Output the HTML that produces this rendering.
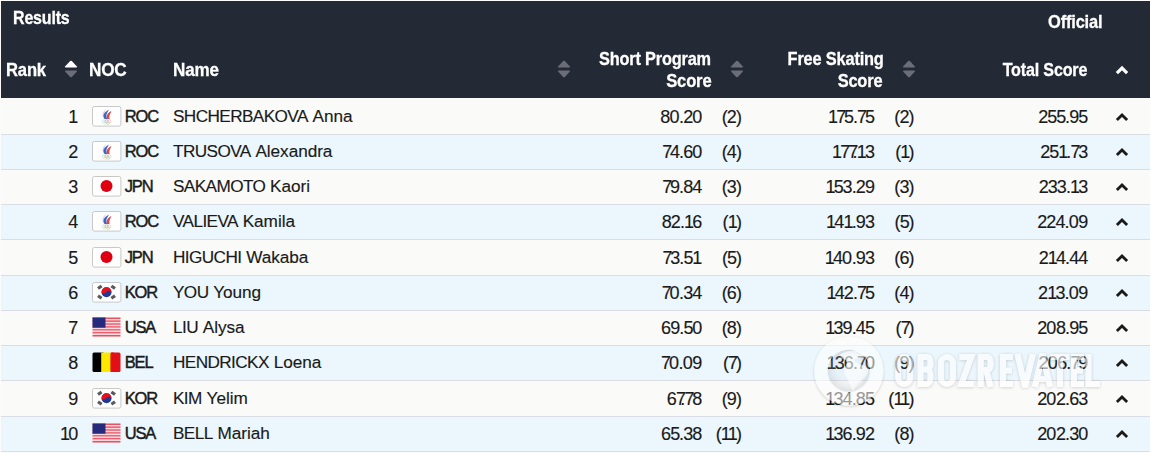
<!DOCTYPE html>
<html><head><meta charset="utf-8"><style>
html,body{margin:0;padding:0;}
body{width:1150px;height:453px;position:relative;overflow:hidden;background:#fbfbfb;font-family:"Liberation Sans",sans-serif;}
.t{position:absolute;white-space:nowrap;}
.ic{position:absolute;display:block;}
</style></head><body>
<div style="position:absolute;left:1px;top:1px;width:1149px;height:97px;background:#242a35"></div>
<div class="t" style="left:13.00px;top:9.34px;font-size:18.5px;line-height:18.5px;font-weight:700;color:#ffffff;letter-spacing:-0.2px;-webkit-text-stroke:0.3px #fff;transform:scaleX(0.8644);transform-origin:0 0;">Results</div>
<div class="t" style="left:1048.00px;top:12.94px;font-size:18.5px;line-height:18.5px;font-weight:700;color:#ffffff;letter-spacing:-0.2px;-webkit-text-stroke:0.3px #fff;transform:scaleX(0.8901);transform-origin:0 0;">Official</div>
<div class="t" style="left:6.00px;top:60.94px;font-size:18.5px;line-height:18.5px;font-weight:700;color:#ffffff;letter-spacing:-0.2px;-webkit-text-stroke:0.3px #fff;transform:scaleX(0.8988);transform-origin:0 0;">Rank</div>
<div class="t" style="left:89.00px;top:60.94px;font-size:18.5px;line-height:18.5px;font-weight:700;color:#ffffff;letter-spacing:-0.2px;-webkit-text-stroke:0.3px #fff;transform:scaleX(0.9270);transform-origin:0 0;">NOC</div>
<div class="t" style="left:173.00px;top:60.94px;font-size:18.5px;line-height:18.5px;font-weight:700;color:#ffffff;letter-spacing:-0.2px;-webkit-text-stroke:0.3px #fff;transform:scaleX(0.9221);transform-origin:0 0;">Name</div>
<div class="t" style="right:439.00px;top:49.94px;font-size:18.5px;line-height:18.5px;font-weight:700;color:#ffffff;letter-spacing:-0.2px;-webkit-text-stroke:0.3px #fff;transform:scaleX(0.8816);transform-origin:100% 0;">Short Program</div>
<div class="t" style="right:439.00px;top:71.54px;font-size:18.5px;line-height:18.5px;font-weight:700;color:#ffffff;letter-spacing:-0.2px;-webkit-text-stroke:0.3px #fff;transform:scaleX(0.8961);transform-origin:100% 0;">Score</div>
<div class="t" style="right:266.50px;top:49.94px;font-size:18.5px;line-height:18.5px;font-weight:700;color:#ffffff;letter-spacing:-0.2px;-webkit-text-stroke:0.3px #fff;transform:scaleX(0.8838);transform-origin:100% 0;">Free Skating</div>
<div class="t" style="right:267.50px;top:71.54px;font-size:18.5px;line-height:18.5px;font-weight:700;color:#ffffff;letter-spacing:-0.2px;-webkit-text-stroke:0.3px #fff;transform:scaleX(0.8884);transform-origin:100% 0;">Score</div>
<div class="t" style="right:62.50px;top:60.94px;font-size:18.5px;line-height:18.5px;font-weight:700;color:#ffffff;letter-spacing:-0.2px;-webkit-text-stroke:0.3px #fff;transform:scaleX(0.8697);transform-origin:100% 0;">Total Score</div>
<svg class="ic" style="left:64.30px;top:60.0px" width="14" height="18" viewBox="0 0 14 18"><path d="M6.2 1.1 Q7 0.3 7.8 1.1 L12.7 6.3 Q13.6 7.5 12.1 7.5 L1.9 7.5 Q0.4 7.5 1.3 6.3 Z" fill="#ffffff"/><path d="M6.2 16.9 Q7 17.7 7.8 16.9 L12.7 11.7 Q13.6 10.5 12.1 10.5 L1.9 10.5 Q0.4 10.5 1.3 11.7 Z" fill="#6b6e79"/></svg>
<svg class="ic" style="left:556.80px;top:60.0px" width="14" height="18" viewBox="0 0 14 18"><path d="M6.2 1.1 Q7 0.3 7.8 1.1 L12.7 6.3 Q13.6 7.5 12.1 7.5 L1.9 7.5 Q0.4 7.5 1.3 6.3 Z" fill="#6b6e79"/><path d="M6.2 16.9 Q7 17.7 7.8 16.9 L12.7 11.7 Q13.6 10.5 12.1 10.5 L1.9 10.5 Q0.4 10.5 1.3 11.7 Z" fill="#6b6e79"/></svg>
<svg class="ic" style="left:729.80px;top:60.0px" width="14" height="18" viewBox="0 0 14 18"><path d="M6.2 1.1 Q7 0.3 7.8 1.1 L12.7 6.3 Q13.6 7.5 12.1 7.5 L1.9 7.5 Q0.4 7.5 1.3 6.3 Z" fill="#6b6e79"/><path d="M6.2 16.9 Q7 17.7 7.8 16.9 L12.7 11.7 Q13.6 10.5 12.1 10.5 L1.9 10.5 Q0.4 10.5 1.3 11.7 Z" fill="#6b6e79"/></svg>
<svg class="ic" style="left:901.80px;top:60.0px" width="14" height="18" viewBox="0 0 14 18"><path d="M6.2 1.1 Q7 0.3 7.8 1.1 L12.7 6.3 Q13.6 7.5 12.1 7.5 L1.9 7.5 Q0.4 7.5 1.3 6.3 Z" fill="#6b6e79"/><path d="M6.2 16.9 Q7 17.7 7.8 16.9 L12.7 11.7 Q13.6 10.5 12.1 10.5 L1.9 10.5 Q0.4 10.5 1.3 11.7 Z" fill="#6b6e79"/></svg>
<svg class="ic" style="left:1115.2px;top:64.6px" width="14" height="10" viewBox="0 0 14 10"><path d="M1.9 8.1 L7 3 L12.1 8.1" fill="none" stroke="#ffffff" stroke-width="3.2" stroke-linecap="butt" stroke-linejoin="miter"/></svg>
<div style="position:absolute;left:1px;top:98px;width:1149px;height:36px;background:#fafaf9"></div>
<div style="position:absolute;left:1px;top:134px;width:1149px;height:1px;background:#dadee4"></div>
<div class="t" style="right:1072.60px;top:107.56px;font-size:18px;line-height:18px;font-weight:400;color:#1a1a1a;letter-spacing:-0.9px;-webkit-text-stroke:0.15px #1a1a1a;">1</div>
<svg class="ic" style="left:92.1px;top:106.4px" width="30" height="21" viewBox="0 0 30 21"><rect x="0.5" y="0.5" width="28.4" height="19.6" rx="2" fill="#fff" stroke="#c8c8c8"/><path d="M11.4 11.8 C9.8 9.6 10.2 7 12 5 C12.8 4.1 13.6 3.3 14.4 2.6 C13.6 4.4 12.6 6 12.4 7.8 C12.2 9 12.4 10.4 12.8 11.8 Z" fill="#d8d6ee"/><path d="M12.6 13 C11 11 11 8.5 13 6.5 C14 5.3 15.3 4.2 16.8 3.4 C16 5.5 14.6 7.2 14.4 9 C14.2 10.5 14.7 11.8 15.1 13 Z" fill="#4262c4"/><path d="M15.2 13 C14.2 11 14.6 8.8 16 7.4 C17 6.4 18.2 5.6 19.4 5 C18.8 7 17.6 8.6 17.4 10 C17.2 11 17.4 12 17.6 13 Z" fill="#d94a44"/><g fill="none" stroke-width="0.75" opacity="0.75"><circle cx="11.9" cy="15.4" r="1.6" stroke="#9ccbe8"/><circle cx="14.7" cy="15.4" r="1.6" stroke="#888"/><circle cx="17.5" cy="15.4" r="1.6" stroke="#eeb0b6"/><circle cx="13.3" cy="16.9" r="1.6" stroke="#f2dc9c"/><circle cx="16.1" cy="16.9" r="1.6" stroke="#a6d4a6"/></g></svg>
<div class="t" style="left:124.80px;top:107.83px;font-size:16.5px;line-height:16.5px;font-weight:400;color:#1a1a1a;letter-spacing:-1.2px;-webkit-text-stroke:0.45px #1a1a1a;">ROC</div>
<div class="t" style="left:173.00px;top:108.24px;font-size:17.2px;line-height:17.2px;font-weight:400;color:#1a1a1a;-webkit-text-stroke:0.15px #1a1a1a;"><span style="letter-spacing:-0.6px">SHCHERBAKOVA</span> <span style="letter-spacing:-0.05px">Anna</span></div>
<div class="t" style="right:448.60px;top:107.56px;font-size:18px;line-height:18px;font-weight:400;color:#1a1a1a;letter-spacing:-0.9px;-webkit-text-stroke:0.15px #1a1a1a;">8<span style="letter-spacing:-0.4px">0</span>.20</div>
<div class="t" style="right:409.00px;top:107.56px;font-size:18px;line-height:18px;font-weight:400;color:#1a1a1a;letter-spacing:-0.9px;-webkit-text-stroke:0.15px #1a1a1a;">(2)</div>
<div class="t" style="right:276.00px;top:107.56px;font-size:18px;line-height:18px;font-weight:400;color:#1a1a1a;letter-spacing:-0.9px;-webkit-text-stroke:0.15px #1a1a1a;"><span style="letter-spacing:-1.8px">1</span><span style="letter-spacing:-2.2px">7</span><span style="letter-spacing:-1.15px">5</span>.<span style="letter-spacing:-2.2px">7</span>5</div>
<div class="t" style="right:236.40px;top:107.56px;font-size:18px;line-height:18px;font-weight:400;color:#1a1a1a;letter-spacing:-0.9px;-webkit-text-stroke:0.15px #1a1a1a;">(2)</div>
<div class="t" style="right:62.60px;top:107.56px;font-size:18px;line-height:18px;font-weight:400;color:#1a1a1a;letter-spacing:-0.9px;-webkit-text-stroke:0.15px #1a1a1a;">2<span style="letter-spacing:-1.15px">5</span><span style="letter-spacing:-1.15px">5</span>.95</div>
<svg class="ic" style="left:1115px;top:111.5px" width="14" height="10" viewBox="0 0 14 10"><path d="M1.9 8.1 L7 3 L12.1 8.1" fill="none" stroke="#1a1a1a" stroke-width="2.8" stroke-linecap="butt" stroke-linejoin="miter"/></svg>
<div style="position:absolute;left:1px;top:135px;width:1149px;height:34px;background:#ecf7fd"></div>
<div style="position:absolute;left:1px;top:169px;width:1149px;height:1px;background:#dadee4"></div>
<div class="t" style="right:1072.60px;top:142.56px;font-size:18px;line-height:18px;font-weight:400;color:#1a1a1a;letter-spacing:-0.9px;-webkit-text-stroke:0.15px #1a1a1a;">2</div>
<svg class="ic" style="left:92.1px;top:141.4px" width="30" height="21" viewBox="0 0 30 21"><rect x="0.5" y="0.5" width="28.4" height="19.6" rx="2" fill="#fff" stroke="#c8c8c8"/><path d="M11.4 11.8 C9.8 9.6 10.2 7 12 5 C12.8 4.1 13.6 3.3 14.4 2.6 C13.6 4.4 12.6 6 12.4 7.8 C12.2 9 12.4 10.4 12.8 11.8 Z" fill="#d8d6ee"/><path d="M12.6 13 C11 11 11 8.5 13 6.5 C14 5.3 15.3 4.2 16.8 3.4 C16 5.5 14.6 7.2 14.4 9 C14.2 10.5 14.7 11.8 15.1 13 Z" fill="#4262c4"/><path d="M15.2 13 C14.2 11 14.6 8.8 16 7.4 C17 6.4 18.2 5.6 19.4 5 C18.8 7 17.6 8.6 17.4 10 C17.2 11 17.4 12 17.6 13 Z" fill="#d94a44"/><g fill="none" stroke-width="0.75" opacity="0.75"><circle cx="11.9" cy="15.4" r="1.6" stroke="#9ccbe8"/><circle cx="14.7" cy="15.4" r="1.6" stroke="#888"/><circle cx="17.5" cy="15.4" r="1.6" stroke="#eeb0b6"/><circle cx="13.3" cy="16.9" r="1.6" stroke="#f2dc9c"/><circle cx="16.1" cy="16.9" r="1.6" stroke="#a6d4a6"/></g></svg>
<div class="t" style="left:124.80px;top:142.83px;font-size:16.5px;line-height:16.5px;font-weight:400;color:#1a1a1a;letter-spacing:-1.2px;-webkit-text-stroke:0.45px #1a1a1a;">ROC</div>
<div class="t" style="left:173.00px;top:143.24px;font-size:17.2px;line-height:17.2px;font-weight:400;color:#1a1a1a;-webkit-text-stroke:0.15px #1a1a1a;"><span style="letter-spacing:-0.6px">TRUSOVA</span> <span style="letter-spacing:-0.05px">Alexandra</span></div>
<div class="t" style="right:448.60px;top:142.56px;font-size:18px;line-height:18px;font-weight:400;color:#1a1a1a;letter-spacing:-0.9px;-webkit-text-stroke:0.15px #1a1a1a;"><span style="letter-spacing:-2.2px">7</span>4.60</div>
<div class="t" style="right:409.00px;top:142.56px;font-size:18px;line-height:18px;font-weight:400;color:#1a1a1a;letter-spacing:-0.9px;-webkit-text-stroke:0.15px #1a1a1a;">(4)</div>
<div class="t" style="right:276.00px;top:142.56px;font-size:18px;line-height:18px;font-weight:400;color:#1a1a1a;letter-spacing:-0.9px;-webkit-text-stroke:0.15px #1a1a1a;"><span style="letter-spacing:-1.8px">1</span><span style="letter-spacing:-2.2px">7</span><span style="letter-spacing:-5.6px">7</span>.<span style="letter-spacing:-1.8px">1</span>3</div>
<div class="t" style="right:236.40px;top:142.56px;font-size:18px;line-height:18px;font-weight:400;color:#1a1a1a;letter-spacing:-0.9px;-webkit-text-stroke:0.15px #1a1a1a;">(<span style="letter-spacing:-1.8px">1</span>)</div>
<div class="t" style="right:62.60px;top:142.56px;font-size:18px;line-height:18px;font-weight:400;color:#1a1a1a;letter-spacing:-0.9px;-webkit-text-stroke:0.15px #1a1a1a;">2<span style="letter-spacing:-1.15px">5</span><span style="letter-spacing:-1.8px">1</span>.<span style="letter-spacing:-2.2px">7</span>3</div>
<svg class="ic" style="left:1115px;top:146.5px" width="14" height="10" viewBox="0 0 14 10"><path d="M1.9 8.1 L7 3 L12.1 8.1" fill="none" stroke="#1a1a1a" stroke-width="2.8" stroke-linecap="butt" stroke-linejoin="miter"/></svg>
<div style="position:absolute;left:1px;top:170px;width:1149px;height:34px;background:#fafaf9"></div>
<div style="position:absolute;left:1px;top:204px;width:1149px;height:1px;background:#dadee4"></div>
<div class="t" style="right:1072.60px;top:177.56px;font-size:18px;line-height:18px;font-weight:400;color:#1a1a1a;letter-spacing:-0.9px;-webkit-text-stroke:0.15px #1a1a1a;">3</div>
<svg class="ic" style="left:92.1px;top:176.4px" width="30" height="21" viewBox="0 0 30 21"><rect x="0.5" y="0.5" width="28.4" height="19.6" rx="2" fill="#fff" stroke="#c8c8c8"/><circle cx="14.5" cy="10" r="6" fill="#de0010"/></svg>
<div class="t" style="left:124.80px;top:177.83px;font-size:16.5px;line-height:16.5px;font-weight:400;color:#1a1a1a;letter-spacing:-1.2px;-webkit-text-stroke:0.45px #1a1a1a;">JPN</div>
<div class="t" style="left:173.00px;top:178.24px;font-size:17.2px;line-height:17.2px;font-weight:400;color:#1a1a1a;-webkit-text-stroke:0.15px #1a1a1a;"><span style="letter-spacing:-0.6px">SAKAMOTO</span> <span style="letter-spacing:-0.05px">Kaori</span></div>
<div class="t" style="right:448.60px;top:177.56px;font-size:18px;line-height:18px;font-weight:400;color:#1a1a1a;letter-spacing:-0.9px;-webkit-text-stroke:0.15px #1a1a1a;"><span style="letter-spacing:-2.2px">7</span>9.84</div>
<div class="t" style="right:409.00px;top:177.56px;font-size:18px;line-height:18px;font-weight:400;color:#1a1a1a;letter-spacing:-0.9px;-webkit-text-stroke:0.15px #1a1a1a;">(3)</div>
<div class="t" style="right:276.00px;top:177.56px;font-size:18px;line-height:18px;font-weight:400;color:#1a1a1a;letter-spacing:-0.9px;-webkit-text-stroke:0.15px #1a1a1a;"><span style="letter-spacing:-1.8px">1</span><span style="letter-spacing:-1.15px">5</span>3.29</div>
<div class="t" style="right:236.40px;top:177.56px;font-size:18px;line-height:18px;font-weight:400;color:#1a1a1a;letter-spacing:-0.9px;-webkit-text-stroke:0.15px #1a1a1a;">(3)</div>
<div class="t" style="right:62.60px;top:177.56px;font-size:18px;line-height:18px;font-weight:400;color:#1a1a1a;letter-spacing:-0.9px;-webkit-text-stroke:0.15px #1a1a1a;">233.<span style="letter-spacing:-1.8px">1</span>3</div>
<svg class="ic" style="left:1115px;top:181.5px" width="14" height="10" viewBox="0 0 14 10"><path d="M1.9 8.1 L7 3 L12.1 8.1" fill="none" stroke="#1a1a1a" stroke-width="2.8" stroke-linecap="butt" stroke-linejoin="miter"/></svg>
<div style="position:absolute;left:1px;top:205px;width:1149px;height:34px;background:#ecf7fd"></div>
<div style="position:absolute;left:1px;top:239px;width:1149px;height:1px;background:#dadee4"></div>
<div class="t" style="right:1072.60px;top:212.56px;font-size:18px;line-height:18px;font-weight:400;color:#1a1a1a;letter-spacing:-0.9px;-webkit-text-stroke:0.15px #1a1a1a;">4</div>
<svg class="ic" style="left:92.1px;top:211.4px" width="30" height="21" viewBox="0 0 30 21"><rect x="0.5" y="0.5" width="28.4" height="19.6" rx="2" fill="#fff" stroke="#c8c8c8"/><path d="M11.4 11.8 C9.8 9.6 10.2 7 12 5 C12.8 4.1 13.6 3.3 14.4 2.6 C13.6 4.4 12.6 6 12.4 7.8 C12.2 9 12.4 10.4 12.8 11.8 Z" fill="#d8d6ee"/><path d="M12.6 13 C11 11 11 8.5 13 6.5 C14 5.3 15.3 4.2 16.8 3.4 C16 5.5 14.6 7.2 14.4 9 C14.2 10.5 14.7 11.8 15.1 13 Z" fill="#4262c4"/><path d="M15.2 13 C14.2 11 14.6 8.8 16 7.4 C17 6.4 18.2 5.6 19.4 5 C18.8 7 17.6 8.6 17.4 10 C17.2 11 17.4 12 17.6 13 Z" fill="#d94a44"/><g fill="none" stroke-width="0.75" opacity="0.75"><circle cx="11.9" cy="15.4" r="1.6" stroke="#9ccbe8"/><circle cx="14.7" cy="15.4" r="1.6" stroke="#888"/><circle cx="17.5" cy="15.4" r="1.6" stroke="#eeb0b6"/><circle cx="13.3" cy="16.9" r="1.6" stroke="#f2dc9c"/><circle cx="16.1" cy="16.9" r="1.6" stroke="#a6d4a6"/></g></svg>
<div class="t" style="left:124.80px;top:212.83px;font-size:16.5px;line-height:16.5px;font-weight:400;color:#1a1a1a;letter-spacing:-1.2px;-webkit-text-stroke:0.45px #1a1a1a;">ROC</div>
<div class="t" style="left:173.00px;top:213.24px;font-size:17.2px;line-height:17.2px;font-weight:400;color:#1a1a1a;-webkit-text-stroke:0.15px #1a1a1a;"><span style="letter-spacing:-0.6px">VALIEVA</span> <span style="letter-spacing:-0.05px">Kamila</span></div>
<div class="t" style="right:448.60px;top:212.56px;font-size:18px;line-height:18px;font-weight:400;color:#1a1a1a;letter-spacing:-0.9px;-webkit-text-stroke:0.15px #1a1a1a;">82.<span style="letter-spacing:-1.8px">1</span>6</div>
<div class="t" style="right:409.00px;top:212.56px;font-size:18px;line-height:18px;font-weight:400;color:#1a1a1a;letter-spacing:-0.9px;-webkit-text-stroke:0.15px #1a1a1a;">(<span style="letter-spacing:-1.8px">1</span>)</div>
<div class="t" style="right:276.00px;top:212.56px;font-size:18px;line-height:18px;font-weight:400;color:#1a1a1a;letter-spacing:-0.9px;-webkit-text-stroke:0.15px #1a1a1a;"><span style="letter-spacing:-1.8px">1</span>4<span style="letter-spacing:-1.8px">1</span>.93</div>
<div class="t" style="right:236.40px;top:212.56px;font-size:18px;line-height:18px;font-weight:400;color:#1a1a1a;letter-spacing:-0.9px;-webkit-text-stroke:0.15px #1a1a1a;">(<span style="letter-spacing:-1.15px">5</span>)</div>
<div class="t" style="right:62.60px;top:212.56px;font-size:18px;line-height:18px;font-weight:400;color:#1a1a1a;letter-spacing:-0.9px;-webkit-text-stroke:0.15px #1a1a1a;">224.<span style="letter-spacing:-0.4px">0</span>9</div>
<svg class="ic" style="left:1115px;top:216.5px" width="14" height="10" viewBox="0 0 14 10"><path d="M1.9 8.1 L7 3 L12.1 8.1" fill="none" stroke="#1a1a1a" stroke-width="2.8" stroke-linecap="butt" stroke-linejoin="miter"/></svg>
<div style="position:absolute;left:1px;top:240px;width:1149px;height:35px;background:#fafaf9"></div>
<div style="position:absolute;left:1px;top:275px;width:1149px;height:1px;background:#dadee4"></div>
<div class="t" style="right:1072.60px;top:248.56px;font-size:18px;line-height:18px;font-weight:400;color:#1a1a1a;letter-spacing:-0.9px;-webkit-text-stroke:0.15px #1a1a1a;">5</div>
<svg class="ic" style="left:92.1px;top:247.4px" width="30" height="21" viewBox="0 0 30 21"><rect x="0.5" y="0.5" width="28.4" height="19.6" rx="2" fill="#fff" stroke="#c8c8c8"/><circle cx="14.5" cy="10" r="6" fill="#de0010"/></svg>
<div class="t" style="left:124.80px;top:248.83px;font-size:16.5px;line-height:16.5px;font-weight:400;color:#1a1a1a;letter-spacing:-1.2px;-webkit-text-stroke:0.45px #1a1a1a;">JPN</div>
<div class="t" style="left:173.00px;top:249.24px;font-size:17.2px;line-height:17.2px;font-weight:400;color:#1a1a1a;-webkit-text-stroke:0.15px #1a1a1a;"><span style="letter-spacing:-0.6px">HIGUCHI</span> <span style="letter-spacing:-0.05px">Wakaba</span></div>
<div class="t" style="right:448.60px;top:248.56px;font-size:18px;line-height:18px;font-weight:400;color:#1a1a1a;letter-spacing:-0.9px;-webkit-text-stroke:0.15px #1a1a1a;"><span style="letter-spacing:-2.2px">7</span>3.<span style="letter-spacing:-1.15px">5</span>1</div>
<div class="t" style="right:409.00px;top:248.56px;font-size:18px;line-height:18px;font-weight:400;color:#1a1a1a;letter-spacing:-0.9px;-webkit-text-stroke:0.15px #1a1a1a;">(<span style="letter-spacing:-1.15px">5</span>)</div>
<div class="t" style="right:276.00px;top:248.56px;font-size:18px;line-height:18px;font-weight:400;color:#1a1a1a;letter-spacing:-0.9px;-webkit-text-stroke:0.15px #1a1a1a;"><span style="letter-spacing:-1.8px">1</span>4<span style="letter-spacing:-0.4px">0</span>.93</div>
<div class="t" style="right:236.40px;top:248.56px;font-size:18px;line-height:18px;font-weight:400;color:#1a1a1a;letter-spacing:-0.9px;-webkit-text-stroke:0.15px #1a1a1a;">(6)</div>
<div class="t" style="right:62.60px;top:248.56px;font-size:18px;line-height:18px;font-weight:400;color:#1a1a1a;letter-spacing:-0.9px;-webkit-text-stroke:0.15px #1a1a1a;">2<span style="letter-spacing:-1.8px">1</span>4.44</div>
<svg class="ic" style="left:1115px;top:252.5px" width="14" height="10" viewBox="0 0 14 10"><path d="M1.9 8.1 L7 3 L12.1 8.1" fill="none" stroke="#1a1a1a" stroke-width="2.8" stroke-linecap="butt" stroke-linejoin="miter"/></svg>
<div style="position:absolute;left:1px;top:276px;width:1149px;height:34px;background:#ecf7fd"></div>
<div style="position:absolute;left:1px;top:310px;width:1149px;height:1px;background:#dadee4"></div>
<div class="t" style="right:1072.60px;top:283.56px;font-size:18px;line-height:18px;font-weight:400;color:#1a1a1a;letter-spacing:-0.9px;-webkit-text-stroke:0.15px #1a1a1a;">6</div>
<svg class="ic" style="left:92.1px;top:282.4px" width="30" height="21" viewBox="0 0 30 21"><rect x="0.5" y="0.5" width="28.4" height="19.6" rx="2" fill="#fff" stroke="#c8c8c8"/><circle cx="14.5" cy="10.2" r="5" fill="#1f3a93"/><path d="M9.5 10.2 A5 5 0 0 1 19.5 10.2 C18 8.4 16 8.2 14.5 9.8 C13 11.6 11 12.2 9.5 10.2 Z" fill="#e01020"/><g fill="#5a5a5a"><rect x="5.6" y="3.6" width="4.4" height="3.2" transform="rotate(-35 7.8 5.2)"/><rect x="19" y="3.6" width="4.4" height="3.2" transform="rotate(35 21.2 5.2)"/><rect x="5.6" y="13.4" width="4.4" height="3.2" transform="rotate(35 7.8 15)"/><rect x="19" y="13.4" width="4.4" height="3.2" transform="rotate(-35 21.2 15)"/></g></svg>
<div class="t" style="left:124.80px;top:283.83px;font-size:16.5px;line-height:16.5px;font-weight:400;color:#1a1a1a;letter-spacing:-1.2px;-webkit-text-stroke:0.45px #1a1a1a;">KOR</div>
<div class="t" style="left:173.00px;top:284.24px;font-size:17.2px;line-height:17.2px;font-weight:400;color:#1a1a1a;-webkit-text-stroke:0.15px #1a1a1a;"><span style="letter-spacing:-0.6px">YOU</span> <span style="letter-spacing:-0.05px">Young</span></div>
<div class="t" style="right:448.60px;top:283.56px;font-size:18px;line-height:18px;font-weight:400;color:#1a1a1a;letter-spacing:-0.9px;-webkit-text-stroke:0.15px #1a1a1a;"><span style="letter-spacing:-2.2px">7</span><span style="letter-spacing:-0.4px">0</span>.34</div>
<div class="t" style="right:409.00px;top:283.56px;font-size:18px;line-height:18px;font-weight:400;color:#1a1a1a;letter-spacing:-0.9px;-webkit-text-stroke:0.15px #1a1a1a;">(6)</div>
<div class="t" style="right:276.00px;top:283.56px;font-size:18px;line-height:18px;font-weight:400;color:#1a1a1a;letter-spacing:-0.9px;-webkit-text-stroke:0.15px #1a1a1a;"><span style="letter-spacing:-1.8px">1</span>42.<span style="letter-spacing:-2.2px">7</span>5</div>
<div class="t" style="right:236.40px;top:283.56px;font-size:18px;line-height:18px;font-weight:400;color:#1a1a1a;letter-spacing:-0.9px;-webkit-text-stroke:0.15px #1a1a1a;">(4)</div>
<div class="t" style="right:62.60px;top:283.56px;font-size:18px;line-height:18px;font-weight:400;color:#1a1a1a;letter-spacing:-0.9px;-webkit-text-stroke:0.15px #1a1a1a;">2<span style="letter-spacing:-1.8px">1</span>3.<span style="letter-spacing:-0.4px">0</span>9</div>
<svg class="ic" style="left:1115px;top:287.5px" width="14" height="10" viewBox="0 0 14 10"><path d="M1.9 8.1 L7 3 L12.1 8.1" fill="none" stroke="#1a1a1a" stroke-width="2.8" stroke-linecap="butt" stroke-linejoin="miter"/></svg>
<div style="position:absolute;left:1px;top:311px;width:1149px;height:34px;background:#fafaf9"></div>
<div style="position:absolute;left:1px;top:345px;width:1149px;height:1px;background:#dadee4"></div>
<div class="t" style="right:1072.60px;top:318.56px;font-size:18px;line-height:18px;font-weight:400;color:#1a1a1a;letter-spacing:-0.9px;-webkit-text-stroke:0.15px #1a1a1a;">7</div>
<svg class="ic" style="left:92.1px;top:317.4px" width="30" height="21" viewBox="0 0 30 21"><g><rect x="0.5" y="0.500" width="28" height="1.472" fill="#e84a5c"/><rect x="0.5" y="1.962" width="28" height="1.472" fill="#f8d8dc"/><rect x="0.5" y="3.423" width="28" height="1.472" fill="#e84a5c"/><rect x="0.5" y="4.885" width="28" height="1.472" fill="#f8d8dc"/><rect x="0.5" y="6.346" width="28" height="1.472" fill="#e84a5c"/><rect x="0.5" y="7.808" width="28" height="1.472" fill="#f8d8dc"/><rect x="0.5" y="9.269" width="28" height="1.472" fill="#e84a5c"/><rect x="0.5" y="10.731" width="28" height="1.472" fill="#f8d8dc"/><rect x="0.5" y="12.192" width="28" height="1.472" fill="#e84a5c"/><rect x="0.5" y="13.654" width="28" height="1.472" fill="#f8d8dc"/><rect x="0.5" y="15.115" width="28" height="1.472" fill="#e84a5c"/><rect x="0.5" y="16.577" width="28" height="1.472" fill="#f8d8dc"/><rect x="0.5" y="18.038" width="28" height="1.472" fill="#e84a5c"/><rect x="0.5" y="0.5" width="13" height="10.2" fill="#262a7c"/></g></svg>
<div class="t" style="left:124.80px;top:318.83px;font-size:16.5px;line-height:16.5px;font-weight:400;color:#1a1a1a;letter-spacing:-1.2px;-webkit-text-stroke:0.45px #1a1a1a;">USA</div>
<div class="t" style="left:173.00px;top:319.24px;font-size:17.2px;line-height:17.2px;font-weight:400;color:#1a1a1a;-webkit-text-stroke:0.15px #1a1a1a;"><span style="letter-spacing:-0.6px">LIU</span> <span style="letter-spacing:-0.05px">Alysa</span></div>
<div class="t" style="right:448.60px;top:318.56px;font-size:18px;line-height:18px;font-weight:400;color:#1a1a1a;letter-spacing:-0.9px;-webkit-text-stroke:0.15px #1a1a1a;">69.<span style="letter-spacing:-1.15px">5</span>0</div>
<div class="t" style="right:409.00px;top:318.56px;font-size:18px;line-height:18px;font-weight:400;color:#1a1a1a;letter-spacing:-0.9px;-webkit-text-stroke:0.15px #1a1a1a;">(8)</div>
<div class="t" style="right:276.00px;top:318.56px;font-size:18px;line-height:18px;font-weight:400;color:#1a1a1a;letter-spacing:-0.9px;-webkit-text-stroke:0.15px #1a1a1a;"><span style="letter-spacing:-1.8px">1</span>39.45</div>
<div class="t" style="right:236.40px;top:318.56px;font-size:18px;line-height:18px;font-weight:400;color:#1a1a1a;letter-spacing:-0.9px;-webkit-text-stroke:0.15px #1a1a1a;">(<span style="letter-spacing:-2.2px">7</span>)</div>
<div class="t" style="right:62.60px;top:318.56px;font-size:18px;line-height:18px;font-weight:400;color:#1a1a1a;letter-spacing:-0.9px;-webkit-text-stroke:0.15px #1a1a1a;">2<span style="letter-spacing:-0.4px">0</span>8.95</div>
<svg class="ic" style="left:1115px;top:322.5px" width="14" height="10" viewBox="0 0 14 10"><path d="M1.9 8.1 L7 3 L12.1 8.1" fill="none" stroke="#1a1a1a" stroke-width="2.8" stroke-linecap="butt" stroke-linejoin="miter"/></svg>
<div style="position:absolute;left:1px;top:346px;width:1149px;height:34px;background:#ecf7fd"></div>
<div style="position:absolute;left:1px;top:380px;width:1149px;height:1px;background:#dadee4"></div>
<div class="t" style="right:1072.60px;top:353.56px;font-size:18px;line-height:18px;font-weight:400;color:#1a1a1a;letter-spacing:-0.9px;-webkit-text-stroke:0.15px #1a1a1a;">8</div>
<svg class="ic" style="left:92.1px;top:352.4px" width="30" height="21" viewBox="0 0 30 21"><rect x="0.5" y="0.5" width="12" height="19.5" rx="1.5" fill="#000"/><rect x="9.2" y="0.5" width="10" height="19.5" fill="#fde800"/><rect x="18.5" y="0.5" width="10" height="19.5" rx="1.5" fill="#e20f17"/><rect x="18.8" y="0.5" width="3" height="19.5" fill="#e20f17"/></svg>
<div class="t" style="left:124.80px;top:353.83px;font-size:16.5px;line-height:16.5px;font-weight:400;color:#1a1a1a;letter-spacing:-1.2px;-webkit-text-stroke:0.45px #1a1a1a;">BEL</div>
<div class="t" style="left:173.00px;top:354.24px;font-size:17.2px;line-height:17.2px;font-weight:400;color:#1a1a1a;-webkit-text-stroke:0.15px #1a1a1a;"><span style="letter-spacing:-0.6px">HENDRICKX</span> <span style="letter-spacing:-0.05px">Loena</span></div>
<div class="t" style="right:448.60px;top:353.56px;font-size:18px;line-height:18px;font-weight:400;color:#1a1a1a;letter-spacing:-0.9px;-webkit-text-stroke:0.15px #1a1a1a;"><span style="letter-spacing:-2.2px">7</span><span style="letter-spacing:-0.4px">0</span>.<span style="letter-spacing:-0.4px">0</span>9</div>
<div class="t" style="right:409.00px;top:353.56px;font-size:18px;line-height:18px;font-weight:400;color:#1a1a1a;letter-spacing:-0.9px;-webkit-text-stroke:0.15px #1a1a1a;">(<span style="letter-spacing:-2.2px">7</span>)</div>
<div class="t" style="right:276.00px;top:353.56px;font-size:18px;line-height:18px;font-weight:400;color:#1a1a1a;letter-spacing:-0.9px;-webkit-text-stroke:0.15px #1a1a1a;"><span style="letter-spacing:-1.8px">1</span>36.<span style="letter-spacing:-2.2px">7</span>0</div>
<div class="t" style="right:236.40px;top:353.56px;font-size:18px;line-height:18px;font-weight:400;color:#1a1a1a;letter-spacing:-0.9px;-webkit-text-stroke:0.15px #1a1a1a;">(9)</div>
<div class="t" style="right:62.60px;top:353.56px;font-size:18px;line-height:18px;font-weight:400;color:#1a1a1a;letter-spacing:-0.9px;-webkit-text-stroke:0.15px #1a1a1a;">2<span style="letter-spacing:-0.4px">0</span>6.<span style="letter-spacing:-2.2px">7</span>9</div>
<svg class="ic" style="left:1115px;top:357.5px" width="14" height="10" viewBox="0 0 14 10"><path d="M1.9 8.1 L7 3 L12.1 8.1" fill="none" stroke="#1a1a1a" stroke-width="2.8" stroke-linecap="butt" stroke-linejoin="miter"/></svg>
<div style="position:absolute;left:1px;top:381px;width:1149px;height:35px;background:#fafaf9"></div>
<div style="position:absolute;left:1px;top:416px;width:1149px;height:1px;background:#dadee4"></div>
<div class="t" style="right:1072.60px;top:389.56px;font-size:18px;line-height:18px;font-weight:400;color:#1a1a1a;letter-spacing:-0.9px;-webkit-text-stroke:0.15px #1a1a1a;">9</div>
<svg class="ic" style="left:92.1px;top:388.4px" width="30" height="21" viewBox="0 0 30 21"><rect x="0.5" y="0.5" width="28.4" height="19.6" rx="2" fill="#fff" stroke="#c8c8c8"/><circle cx="14.5" cy="10.2" r="5" fill="#1f3a93"/><path d="M9.5 10.2 A5 5 0 0 1 19.5 10.2 C18 8.4 16 8.2 14.5 9.8 C13 11.6 11 12.2 9.5 10.2 Z" fill="#e01020"/><g fill="#5a5a5a"><rect x="5.6" y="3.6" width="4.4" height="3.2" transform="rotate(-35 7.8 5.2)"/><rect x="19" y="3.6" width="4.4" height="3.2" transform="rotate(35 21.2 5.2)"/><rect x="5.6" y="13.4" width="4.4" height="3.2" transform="rotate(35 7.8 15)"/><rect x="19" y="13.4" width="4.4" height="3.2" transform="rotate(-35 21.2 15)"/></g></svg>
<div class="t" style="left:124.80px;top:389.83px;font-size:16.5px;line-height:16.5px;font-weight:400;color:#1a1a1a;letter-spacing:-1.2px;-webkit-text-stroke:0.45px #1a1a1a;">KOR</div>
<div class="t" style="left:173.00px;top:390.24px;font-size:17.2px;line-height:17.2px;font-weight:400;color:#1a1a1a;-webkit-text-stroke:0.15px #1a1a1a;"><span style="letter-spacing:-0.6px">KIM</span> <span style="letter-spacing:-0.05px">Yelim</span></div>
<div class="t" style="right:448.60px;top:389.56px;font-size:18px;line-height:18px;font-weight:400;color:#1a1a1a;letter-spacing:-0.9px;-webkit-text-stroke:0.15px #1a1a1a;">6<span style="letter-spacing:-5.6px">7</span>.<span style="letter-spacing:-2.2px">7</span>8</div>
<div class="t" style="right:409.00px;top:389.56px;font-size:18px;line-height:18px;font-weight:400;color:#1a1a1a;letter-spacing:-0.9px;-webkit-text-stroke:0.15px #1a1a1a;">(9)</div>
<div class="t" style="right:276.00px;top:389.56px;font-size:18px;line-height:18px;font-weight:400;color:#1a1a1a;letter-spacing:-0.9px;-webkit-text-stroke:0.15px #1a1a1a;"><span style="letter-spacing:-1.8px">1</span>34.85</div>
<div class="t" style="right:236.40px;top:389.56px;font-size:18px;line-height:18px;font-weight:400;color:#1a1a1a;letter-spacing:-0.9px;-webkit-text-stroke:0.15px #1a1a1a;">(<span style="letter-spacing:-1.8px">1</span><span style="letter-spacing:-1.8px">1</span>)</div>
<div class="t" style="right:62.60px;top:389.56px;font-size:18px;line-height:18px;font-weight:400;color:#1a1a1a;letter-spacing:-0.9px;-webkit-text-stroke:0.15px #1a1a1a;">2<span style="letter-spacing:-0.4px">0</span>2.63</div>
<svg class="ic" style="left:1115px;top:393.5px" width="14" height="10" viewBox="0 0 14 10"><path d="M1.9 8.1 L7 3 L12.1 8.1" fill="none" stroke="#1a1a1a" stroke-width="2.8" stroke-linecap="butt" stroke-linejoin="miter"/></svg>
<div style="position:absolute;left:1px;top:417px;width:1149px;height:34px;background:#ecf7fd"></div>
<div style="position:absolute;left:1px;top:451px;width:1149px;height:1px;background:#dadee4"></div>
<div class="t" style="right:1072.60px;top:424.56px;font-size:18px;line-height:18px;font-weight:400;color:#1a1a1a;letter-spacing:-0.9px;-webkit-text-stroke:0.15px #1a1a1a;"><span style="letter-spacing:-1.8px">1</span>0</div>
<svg class="ic" style="left:92.1px;top:423.4px" width="30" height="21" viewBox="0 0 30 21"><g><rect x="0.5" y="0.500" width="28" height="1.472" fill="#e84a5c"/><rect x="0.5" y="1.962" width="28" height="1.472" fill="#f8d8dc"/><rect x="0.5" y="3.423" width="28" height="1.472" fill="#e84a5c"/><rect x="0.5" y="4.885" width="28" height="1.472" fill="#f8d8dc"/><rect x="0.5" y="6.346" width="28" height="1.472" fill="#e84a5c"/><rect x="0.5" y="7.808" width="28" height="1.472" fill="#f8d8dc"/><rect x="0.5" y="9.269" width="28" height="1.472" fill="#e84a5c"/><rect x="0.5" y="10.731" width="28" height="1.472" fill="#f8d8dc"/><rect x="0.5" y="12.192" width="28" height="1.472" fill="#e84a5c"/><rect x="0.5" y="13.654" width="28" height="1.472" fill="#f8d8dc"/><rect x="0.5" y="15.115" width="28" height="1.472" fill="#e84a5c"/><rect x="0.5" y="16.577" width="28" height="1.472" fill="#f8d8dc"/><rect x="0.5" y="18.038" width="28" height="1.472" fill="#e84a5c"/><rect x="0.5" y="0.5" width="13" height="10.2" fill="#262a7c"/></g></svg>
<div class="t" style="left:124.80px;top:424.83px;font-size:16.5px;line-height:16.5px;font-weight:400;color:#1a1a1a;letter-spacing:-1.2px;-webkit-text-stroke:0.45px #1a1a1a;">USA</div>
<div class="t" style="left:173.00px;top:425.24px;font-size:17.2px;line-height:17.2px;font-weight:400;color:#1a1a1a;-webkit-text-stroke:0.15px #1a1a1a;"><span style="letter-spacing:-0.6px">BELL</span> <span style="letter-spacing:-0.05px">Mariah</span></div>
<div class="t" style="right:448.60px;top:424.56px;font-size:18px;line-height:18px;font-weight:400;color:#1a1a1a;letter-spacing:-0.9px;-webkit-text-stroke:0.15px #1a1a1a;">6<span style="letter-spacing:-1.15px">5</span>.38</div>
<div class="t" style="right:409.00px;top:424.56px;font-size:18px;line-height:18px;font-weight:400;color:#1a1a1a;letter-spacing:-0.9px;-webkit-text-stroke:0.15px #1a1a1a;">(<span style="letter-spacing:-1.8px">1</span><span style="letter-spacing:-1.8px">1</span>)</div>
<div class="t" style="right:276.00px;top:424.56px;font-size:18px;line-height:18px;font-weight:400;color:#1a1a1a;letter-spacing:-0.9px;-webkit-text-stroke:0.15px #1a1a1a;"><span style="letter-spacing:-1.8px">1</span>36.92</div>
<div class="t" style="right:236.40px;top:424.56px;font-size:18px;line-height:18px;font-weight:400;color:#1a1a1a;letter-spacing:-0.9px;-webkit-text-stroke:0.15px #1a1a1a;">(8)</div>
<div class="t" style="right:62.60px;top:424.56px;font-size:18px;line-height:18px;font-weight:400;color:#1a1a1a;letter-spacing:-0.9px;-webkit-text-stroke:0.15px #1a1a1a;">2<span style="letter-spacing:-0.4px">0</span>2.30</div>
<svg class="ic" style="left:1115px;top:428.5px" width="14" height="10" viewBox="0 0 14 10"><path d="M1.9 8.1 L7 3 L12.1 8.1" fill="none" stroke="#1a1a1a" stroke-width="2.8" stroke-linecap="butt" stroke-linejoin="miter"/></svg>
<svg class="ic" style="left:800px;top:325px" width="320" height="95" viewBox="800 325 320 95"><defs><filter id="sh" x="-20%" y="-20%" width="140%" height="140%"><feGaussianBlur in="SourceAlpha" stdDeviation="1.5"/><feOffset dx="0" dy="0.6"/><feComponentTransfer><feFuncA type="linear" slope="0.35"/></feComponentTransfer><feMerge><feMergeNode/><feMergeNode in="SourceGraphic"/></feMerge></filter><filter id="bl" x="-20%" y="-20%" width="140%" height="140%"><feGaussianBlur stdDeviation="1.6"/></filter><mask id="ring"><rect x="800" y="325" width="320" height="95" fill="#fff"/><circle cx="848.8" cy="371" r="21.5" fill="#000"/></mask></defs><g filter="url(#sh)" opacity="0.55"><circle cx="848.8" cy="371" r="34.6" fill="#fff" mask="url(#ring)"/></g><radialGradient id="gg" cx="0.5" cy="0.45" r="0.55"><stop offset="0.5" stop-color="#b8c2ca" stop-opacity="0.08"/><stop offset="1" stop-color="#9aa4ae" stop-opacity="0.28"/></radialGradient><circle cx="848.8" cy="371.2" r="20.3" fill="url(#gg)"/><g opacity="0.6"><path d="M840 355 C844 351 851 350 858 351 C862 352 865 354 867 357 C862 358 858 358 855 359 C853 361 855 363 859 364 C864 365 868 368 868.5 372 C867 376 863 379 860 382 C857 385 855 388 853 391 C851 388 850 384 848 380 C846 377 844 374 844 370 C846 366 848 363 846 360 C843 359 841 358 840 355 Z" fill="#fff"/></g><mask id="tm"><rect x="800" y="325" width="320" height="95" fill="#fff"/><g fill="none" stroke="#000" stroke-width="6" stroke-linejoin="miter" stroke-miterlimit="3"><path transform="translate(895.2,354)" d="M3 9 A6 6 0 0 1 15 9 L15 24 A6 6 0 0 1 3 24 Z"/><path transform="translate(917.5,354)" d="M3 0 L3 33 M3 3 L9 3 Q13 3 13 9.3 Q13 15.5 9 15.5 L3 15.5 M9 15.5 Q13 15.5 13 22.5 Q13 30 9 30 L3 30"/><path transform="translate(937.9,354)" d="M3 9 A6 6 0 0 1 15 9 L15 24 A6 6 0 0 1 3 24 Z"/><path transform="translate(958.8,354)" d="M0.5 3 L12.5 3 L2.5 30 L15 30"/><path transform="translate(977.7,354)" d="M3 0 L3 33 M3 3 L9 3 Q13 3 13 9.5 Q13 16 9 16 L3 16 M8.5 16 L13 33"/><path transform="translate(1000,354)" d="M3 0 L3 33 M3 3 L13 3 M3 16.5 L12 16.5 M3 30 L13 30"/><path transform="translate(1014.6,354)" d="M2.8 0 L10.5 33 L18.2 0"/><path transform="translate(1032,354)" d="M2.8 33 L10.5 0 L18.2 33 M6 25 L15 25"/><path transform="translate(1050.5,354)" d="M0 3 L19 3 M9.5 0 L9.5 33"/><path transform="translate(1071,354)" d="M3 0 L3 33 M3 3 L13 3 M3 16.5 L12 16.5 M3 30 L13 30"/><path transform="translate(1085.5,354)" d="M3 0 L3 30 L14.5 30"/></g></mask><g mask="url(#tm)"><g filter="url(#bl)" opacity="0.3" fill="none" stroke="#6a7480" stroke-width="6.5" stroke-linejoin="miter" stroke-miterlimit="3" transform="translate(0,0.6)"><path transform="translate(895.2,354)" d="M3 9 A6 6 0 0 1 15 9 L15 24 A6 6 0 0 1 3 24 Z"/><path transform="translate(917.5,354)" d="M3 0 L3 33 M3 3 L9 3 Q13 3 13 9.3 Q13 15.5 9 15.5 L3 15.5 M9 15.5 Q13 15.5 13 22.5 Q13 30 9 30 L3 30"/><path transform="translate(937.9,354)" d="M3 9 A6 6 0 0 1 15 9 L15 24 A6 6 0 0 1 3 24 Z"/><path transform="translate(958.8,354)" d="M0.5 3 L12.5 3 L2.5 30 L15 30"/><path transform="translate(977.7,354)" d="M3 0 L3 33 M3 3 L9 3 Q13 3 13 9.5 Q13 16 9 16 L3 16 M8.5 16 L13 33"/><path transform="translate(1000,354)" d="M3 0 L3 33 M3 3 L13 3 M3 16.5 L12 16.5 M3 30 L13 30"/><path transform="translate(1014.6,354)" d="M2.8 0 L10.5 33 L18.2 0"/><path transform="translate(1032,354)" d="M2.8 33 L10.5 0 L18.2 33 M6 25 L15 25"/><path transform="translate(1050.5,354)" d="M0 3 L19 3 M9.5 0 L9.5 33"/><path transform="translate(1071,354)" d="M3 0 L3 33 M3 3 L13 3 M3 16.5 L12 16.5 M3 30 L13 30"/><path transform="translate(1085.5,354)" d="M3 0 L3 30 L14.5 30"/></g></g><g opacity="0.62" fill="none" stroke="#fff" stroke-width="6" stroke-linejoin="miter" stroke-miterlimit="3"><path transform="translate(895.2,354)" d="M3 9 A6 6 0 0 1 15 9 L15 24 A6 6 0 0 1 3 24 Z"/><path transform="translate(917.5,354)" d="M3 0 L3 33 M3 3 L9 3 Q13 3 13 9.3 Q13 15.5 9 15.5 L3 15.5 M9 15.5 Q13 15.5 13 22.5 Q13 30 9 30 L3 30"/><path transform="translate(937.9,354)" d="M3 9 A6 6 0 0 1 15 9 L15 24 A6 6 0 0 1 3 24 Z"/><path transform="translate(958.8,354)" d="M0.5 3 L12.5 3 L2.5 30 L15 30"/><path transform="translate(977.7,354)" d="M3 0 L3 33 M3 3 L9 3 Q13 3 13 9.5 Q13 16 9 16 L3 16 M8.5 16 L13 33"/><path transform="translate(1000,354)" d="M3 0 L3 33 M3 3 L13 3 M3 16.5 L12 16.5 M3 30 L13 30"/><path transform="translate(1014.6,354)" d="M2.8 0 L10.5 33 L18.2 0"/><path transform="translate(1032,354)" d="M2.8 33 L10.5 0 L18.2 33 M6 25 L15 25"/><path transform="translate(1050.5,354)" d="M0 3 L19 3 M9.5 0 L9.5 33"/><path transform="translate(1071,354)" d="M3 0 L3 33 M3 3 L13 3 M3 16.5 L12 16.5 M3 30 L13 30"/><path transform="translate(1085.5,354)" d="M3 0 L3 30 L14.5 30"/></g></svg>

</body></html>
